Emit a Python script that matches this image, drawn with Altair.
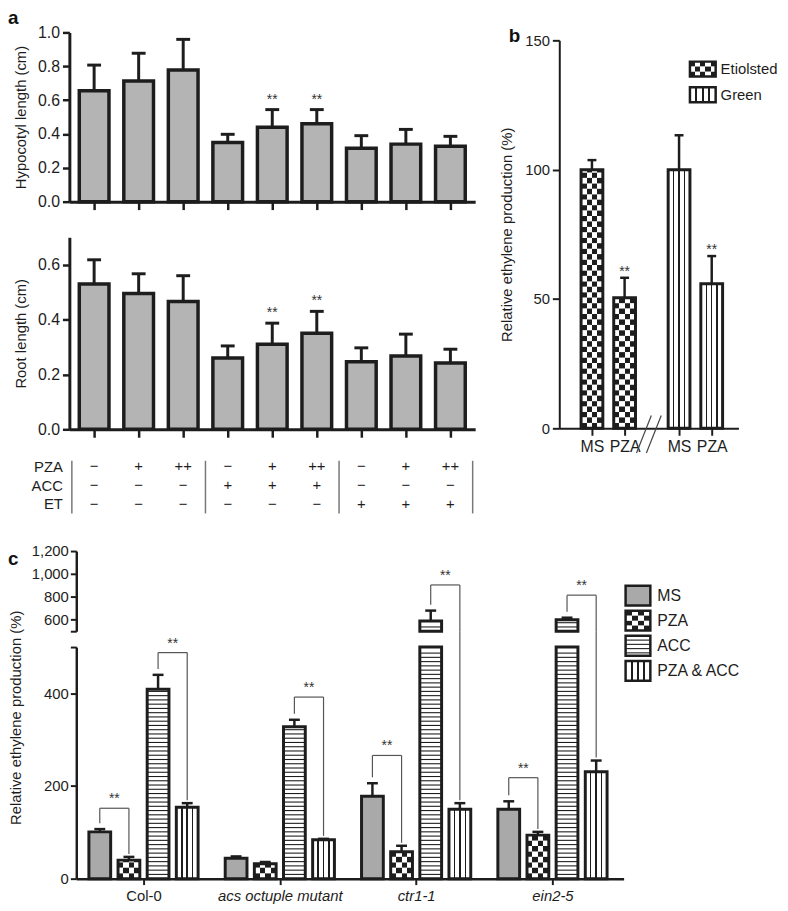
import json
import altair as alt
import pandas as pd

FONT = "Liberation Sans"
INK = "#1d1d1d"
SOFT = "#555555"

# ----------------------------------------------------------------- data
# panel a: treatment table under the bars
a_rows = ["PZA", "ACC", "ET"]
a_pza = ["−", "+", "++", "−", "+", "++", "−", "+", "++"]
a_acc = ["−", "−", "−", "+", "+", "+", "−", "−", "−"]
a_et = ["−", "−", "−", "−", "−", "−", "+", "+", "+"]
# panel a: hypocotyl length (cm), mean and s.d.
hyp_mean = [0.655, 0.713, 0.778, 0.350, 0.440, 0.460, 0.316, 0.340, 0.327]
hyp_sd = [0.152, 0.164, 0.181, 0.048, 0.104, 0.084, 0.074, 0.087, 0.059]
hyp_sig = ["", "", "", "", "**", "**", "", "", ""]
# panel a: root length (cm)
root_mean = [0.530, 0.495, 0.466, 0.260, 0.310, 0.350, 0.246, 0.267, 0.242]
root_sd = [0.088, 0.072, 0.094, 0.044, 0.077, 0.080, 0.051, 0.080, 0.050]
root_sig = ["", "", "", "", "**", "**", "", "", ""]

# panel b: relative ethylene production (%)
b_lights = ["Etiolsted", "Green"]
b_treats = ["MS", "PZA"]
b_light = ["Etiolsted", "Etiolsted", "Green", "Green"]
b_treat = ["MS", "PZA", "MS", "PZA"]
b_mean = [100.0, 50.5, 100.0, 55.9]
b_sd = [3.7, 7.7, 13.3, 10.7]
b_sig = ["", "**", "", "**"]

# panel c: relative ethylene production (%)
c_genotypes = ["Col-0", "acs octuple mutant", "ctr1-1", "ein2-5"]
c_italic = [False, True, True, True]
c_treatments = ["MS", "PZA", "ACC", "PZA & ACC"]
c_mean = [[101, 40, 409, 154], [44, 32, 328, 84], [178, 58, 590, 150], [150, 94, 600, 231]]
c_sd = [[6, 7, 31, 9], [4, 4, 15, 2], [28, 13, 90, 13], [17, 7, 18, 24]]
# significance brackets (genotype, left treatment, right treatment, bracket height)
c_brk_gen = [0, 0, 1, 2, 2, 3, 3]
c_brk_left = [0, 2, 2, 0, 2, 0, 2]
c_brk_right = [1, 3, 3, 1, 3, 1, 3]
c_brk_height = [152, 488, 392, 266, 904, 218, 815]

# ----------------------------------------------------------------- layout
W, H = 676, 855
PAD = {"left": 62, "top": 20, "right": 42, "bottom": 28}
BREAK = 500  # axis break of panel c


class Lin:
    def __init__(self, domain, rng):
        self.domain, self.rng = list(domain), list(rng)

    def u(self, px):
        return px * abs(self.domain[1] - self.domain[0]) / abs(self.rng[1] - self.rng[0])

    def scale(self):
        return alt.Scale(domain=self.domain, range=self.rng, nice=False, zero=False)


class Panel:
    def __init__(self, xs, ys, xaxis=None, yaxis=None):
        self.xs, self.ys, self.xaxis, self.yaxis = xs, ys, xaxis, yaxis

    def X(self, f):
        return alt.X(f, type="quantitative", scale=self.xs.scale(), axis=self.xaxis)

    def Y(self, f):
        return alt.Y(f, type="quantitative", scale=self.ys.scale(), axis=self.yaxis)


A_X = Lin([-0.556, 8.556], [0, 410])
A_YT = Lin([0, 1.0], [171, 0])
A_YB = Lin([0, 0.7], [401, 207])
T_Y = Lin([-0.5, 2.5], [429, 486])
B_X = Lin([-1.0, 4.485], [495, 676])
B_Y = Lin([0, 150], [400, 8])
C_X = Lin([-0.493, 3.522], [7, 560])
C_YU = Lin([BREAK, 1200], [605, 524])
C_YL = Lin([0, BREAK], [855, 621])
BL_X = Lin([0, 1], [627, 653])
BL_Y = Lin([-0.5, 1.5], [24, 76])
CL_X = Lin([0, 1], [562, 587])
CL_Y = Lin([-0.5, 3.5], [556.3, 657.7])


# ----------------------------------------------------------------- patterns
def vstripe_grad(n, frac=0.07):
    stops = [{"offset": 0, "color": "white"}]
    for k in range(1, n + 1):
        c = k / (n + 1)
        stops += [{"offset": c - frac / 2, "color": "white"},
                  {"offset": c - frac / 2, "color": INK},
                  {"offset": c + frac / 2, "color": INK},
                  {"offset": c + frac / 2, "color": "white"}]
    stops.append({"offset": 1, "color": "white"})
    return {"gradient": "linear", "x1": 0, "y1": 0, "x2": 1, "y2": 0, "stops": stops}


def checker_grad(n, phase):
    stops = []
    for j in range(n):
        col = INK if (j + phase) % 2 == 0 else "white"
        stops += [{"offset": j / n, "color": col}, {"offset": (j + 1) / n, "color": col}]
    return {"gradient": "linear", "x1": 0, "y1": 0, "x2": 1, "y2": 0, "stops": stops}


def fill_layers(P, df, kind, cells=4, row_px=5.5, line_px=4.3, lines=3, gray="#b3b3b3"):
    if len(df) == 0:
        return []
    base = alt.Chart(df)
    X, Y = P.X, P.Y
    enc = dict(x=X("x0"), x2=alt.X2("x1"), y=Y("y0"), y2=alt.Y2("y1"))
    out = []
    if kind == "gray":
        out.append(base.mark_rect(fill=gray).encode(**enc))
    elif kind == "vstripes":
        out.append(base.mark_rect(fill=vstripe_grad(lines)).encode(**enc))
    elif kind == "hstripes":
        st = P.ys.u(line_px)
        out.append(base.mark_rect(fill="white").encode(**enc))
        out.append(base.transform_calculate(ys=f"sequence(datum.y0 + {st}, datum.y1 - {0.5 * st}, {st})")
                   .transform_flatten(["ys"])
                   .mark_rule(color=INK, strokeWidth=1.1)
                   .encode(x=X("x0"), x2=alt.X2("x1"), y=Y("ys")))
    elif kind == "checker":
        st = P.ys.u(row_px)
        rows = (base.transform_calculate(r0=f"sequence(datum.y0, datum.y1, {st})")
                .transform_flatten(["r0"])
                .transform_calculate(r1=f"min(datum.r0 + {st}, datum.y1)",
                                     par=f"round((datum.r0 - datum.y0) / {st}) % 2"))
        for p in (0, 1):
            out.append(rows.transform_filter(f"datum.par == {p}")
                       .mark_rect(fill=checker_grad(cells, p))
                       .encode(x=X("x0"), x2=alt.X2("x1"), y=Y("r0"), y2=alt.Y2("r1")))
    return out


def outline(P, df, sw):
    if len(df) == 0:
        return []
    return [alt.Chart(df).mark_rect(fill="white", fillOpacity=0, stroke=INK, strokeWidth=sw)
            .encode(x=P.X("x0"), x2=alt.X2("x1"), y=P.Y("y0"), y2=alt.Y2("y1"))]


def errors(P, df, cap_px, sw):
    if len(df) == 0:
        return []
    hw = P.xs.u(cap_px / 2)
    d = df.assign(c0=df["x"] - hw, c1=df["x"] + hw)
    base = alt.Chart(d)
    return [base.mark_rule(color=INK, strokeWidth=sw).encode(x=P.X("x"), y=P.Y("mean"), y2=alt.Y2("top")),
            base.mark_rule(color=INK, strokeWidth=sw).encode(x=P.X("c0"), x2=alt.X2("c1"), y=P.Y("top"))]


def stars(P, df, field, dy, size=14):
    d = df[df["sig"] != ""]
    return [alt.Chart(d).mark_text(dy=dy, fontSize=size, font=FONT, color="#333333", baseline="alphabetic")
            .encode(x=P.X("x"), y=P.Y(field), text="sig:N")]


# ----------------------------------------------------------------- panel a
def a_frame(mean, sd, sig):
    hw = A_X.u(15)
    d = pd.DataFrame({"x": list(range(len(mean))), "mean": mean, "sd": sd, "sig": sig})
    d["x0"], d["x1"], d["y0"], d["y1"] = d["x"] - hw, d["x"] + hw, 0.0, d["mean"]
    d["top"] = d["mean"] + d["sd"]
    return d


def a_panel(mean, sd, sig, ys, title, yvals):
    y_bottom = ys.rng[0]
    P = Panel(A_X, ys,
              xaxis=alt.Axis(orient="bottom", offset=y_bottom - H, values=list(range(len(mean))), labels=False,
                             tickSize=8, tickWidth=2.5, domainWidth=3, title=None),
              yaxis=alt.Axis(orient="left", offset=0, values=yvals, format=".1f", tickSize=7, tickWidth=2.5,
                             domainWidth=3, title=title, labelPadding=3, titlePadding=9, labelFontSize=16))
    d = a_frame(mean, sd, sig)
    layers = fill_layers(P, d, "gray", gray="#b4b4b4") + errors(P, d, 14, 3) + outline(P, d, 3.5) + stars(P, d, "top", -6)
    return alt.layer(*layers)


a_top = a_panel(hyp_mean, hyp_sd, hyp_sig, A_YT, "Hypocotyl length (cm)", [0, 0.2, 0.4, 0.6, 0.8, 1.0])
a_bot = a_panel(root_mean, root_sd, root_sig, A_YB, "Root length (cm)", [0, 0.2, 0.4, 0.6])

# treatment table
P_t = Panel(A_X, T_Y, xaxis=None,
            yaxis=alt.Axis(orient="left", offset=0, values=[0, 1, 2], labelExpr=f"{json.dumps(a_rows)}[datum.value]",
                           domain=False, ticks=False, labelPadding=7, labelFontSize=15, title=None))
t_cells = pd.DataFrame([{"x": i, "r": r, "t": col[i]}
                        for r, col in enumerate([a_pza, a_acc, a_et]) for i in range(len(a_pza))])
conds = list(zip(a_acc, a_et))
seps = [-0.5] + [i - 0.5 for i in range(1, len(conds)) if conds[i] != conds[i - 1]] + [len(conds) - 0.5]
t_seps = pd.DataFrame({"x": seps, "y0": -0.3, "y1": 2.5})
table = alt.layer(
    alt.Chart(t_cells).mark_text(fontSize=15, font=FONT, color=INK, baseline="middle")
    .encode(x=P_t.X("x"), y=P_t.Y("r"), text="t:N"),
    alt.Chart(t_seps).mark_rule(color="#777777", strokeWidth=1.5)
    .encode(x=P_t.X("x"), y=P_t.Y("y0"), y2=alt.Y2("y1")),
)

# ----------------------------------------------------------------- panel b
B_GAP = 0.667
b_pos = [b_lights.index(l) * (len(b_treats) + B_GAP) + b_treats.index(t) for l, t in zip(b_light, b_treat)]
b_label_expr = "".join(f"abs(datum.value - {p}) < 0.01 ? '{t}' : " for p, t in zip(b_pos, b_treat)) + "''"
P_b = Panel(B_X, B_Y,
            xaxis=alt.Axis(orient="bottom", offset=B_Y.rng[0] - H, values=b_pos, labelExpr=b_label_expr,
                           tickSize=7, tickWidth=2, domainWidth=2, labelFontSize=16, labelPadding=3, title=None),
            yaxis=alt.Axis(orient="left", offset=-B_X.rng[0], values=[0, 50, 100, 150], tickSize=7, tickWidth=2,
                           domainWidth=2, labelPadding=3, labelFontSize=15, title="Relative ethylene production (%)",
                           titlePadding=10))
hw_b = B_X.u(11)
d_b = pd.DataFrame({"x": b_pos, "light": b_light, "mean": b_mean, "sd": b_sd, "sig": b_sig})
d_b["x0"], d_b["x1"], d_b["y0"], d_b["y1"] = d_b["x"] - hw_b, d_b["x"] + hw_b, 0.0, d_b["mean"]
d_b["top"] = d_b["mean"] + d_b["sd"]
b_kind = {"Etiolsted": "checker", "Green": "vstripes"}
b_layers = []
for light in b_lights:
    b_layers += fill_layers(P_b, d_b[d_b["light"] == light], b_kind[light], cells=4, row_px=5.5)
b_layers += errors(P_b, d_b, 9, 2.5) + outline(P_b, d_b, 3) + stars(P_b, d_b, "top", -2, 14)
# axis-break marks between the two groups
mid = (b_pos[1] + b_pos[2]) / 2
brk = pd.DataFrame({"xa": [mid + B_X.u(-15.5), mid + B_X.u(-5.5)],
                    "xb": [mid + B_X.u(-0.5), mid + B_X.u(9.5)],
                    "ya": [-B_Y.u(25)] * 2, "yb": [B_Y.u(13)] * 2})
b_layers.append(alt.Chart(brk).mark_rule(color="#444444", strokeWidth=1.2)
                .encode(x=P_b.X("xa"), x2=alt.X2("xb"), y=P_b.Y("ya"), y2=alt.Y2("yb")))
panel_b = alt.layer(*b_layers)

# panel b legend
P_bl = Panel(BL_X, BL_Y)
d_bl = pd.DataFrame({"r": list(range(len(b_lights))), "label": b_lights})
d_bl["x0"], d_bl["x1"] = 0.0, 1.0
d_bl["y0"], d_bl["y1"] = d_bl["r"] - BL_Y.u(7.5), d_bl["r"] + BL_Y.u(7.5)
bl_layers = []
for light in b_lights:
    bl_layers += fill_layers(P_bl, d_bl[d_bl["label"] == light], b_kind[light], cells=5, row_px=5)
bl_layers += outline(P_bl, d_bl, 2.5)
bl_layers.append(alt.Chart(d_bl.assign(xt=1.0)).mark_text(align="left", baseline="middle", dx=5, fontSize=15,
                                                          font=FONT, color=INK)
                 .encode(x=P_bl.X("xt"), y=P_bl.Y("r"), text="label:N"))
legend_b = alt.layer(*bl_layers)

# ----------------------------------------------------------------- panel c
C_STEP = 0.2138
hw_c = C_X.u(11)
rows = []
for g, gen in enumerate(c_genotypes):
    for k, tr in enumerate(c_treatments):
        m, s = c_mean[g][k], c_sd[g][k]
        rows.append({"g": g, "k": k, "x": g + (k - 1.5) * C_STEP, "mean": m, "top": m + s})
d_c = pd.DataFrame(rows)
d_c["x0"], d_c["x1"] = d_c["x"] - hw_c, d_c["x"] + hw_c
c_kind = ["gray", "checker", "hstripes", "vstripes"]

fmt_expr = f"datum.value == {BREAK} ? '' : format(datum.value, ',')"
P_cu = Panel(C_X, C_YU, xaxis=None,
             yaxis=alt.Axis(orient="left", offset=-C_X.rng[0], values=[BREAK, 600, 800, 1000, 1200],
                            labelExpr=fmt_expr, tickSize=6, tickWidth=2, domainWidth=2.5, labelFontSize=15,
                            title=None))
P_cl = Panel(C_X, C_YL,
             xaxis=alt.Axis(orient="bottom", offset=0, values=list(range(len(c_genotypes))),
                            labelExpr=f"{json.dumps(c_genotypes)}[datum.value]",
                            labelFontStyle={"condition": {"test": f"{json.dumps(c_italic)}[datum.value]",
                                                          "value": "italic"}, "value": "normal"},
                            tickSize=6, tickWidth=2, domainWidth=2.5, labelFontSize=15, labelPadding=4,
                            title=None),
             yaxis=alt.Axis(orient="left", offset=-C_X.rng[0], values=[0, 200, 400, BREAK],
                            labelExpr=fmt_expr, tickSize=6, tickWidth=2, domainWidth=2.5, labelFontSize=15,
                            title="Relative ethylene production (%)", titleY=692, titlePadding=20))

lo = d_c.assign(y0=0.0, y1=d_c["mean"].clip(upper=BREAK))
up = d_c[d_c["mean"] > BREAK].assign(y0=float(BREAK))
up["y1"] = up["mean"]

cl_layers, cu_layers = [], []
for k, kind in enumerate(c_kind):
    cl_layers += fill_layers(P_cl, lo[lo["k"] == k], kind, cells=4, row_px=5.5, line_px=4.3, gray="#a9a9a9")
    cu_layers += fill_layers(P_cu, up[up["k"] == k], kind, cells=4, row_px=5.5, line_px=4.3, gray="#a9a9a9")
cl_layers += errors(P_cl, d_c[d_c["mean"] <= BREAK], 11, 2.5) + outline(P_cl, lo, 3)
cu_layers += errors(P_cu, d_c[d_c["mean"] > BREAK], 11, 2.5) + outline(P_cu, up, 3)


# significance brackets
def xpos(g, k):
    return g + (k - 1.5) * C_STEP


def topv(g, k):
    return c_mean[g][k] + c_sd[g][k]


def gap_above(v, px):
    return v + (C_YL.u(px) if v < BREAK else C_YU.u(px))


legs, hbars = [], []
for g, kl, kr, h in zip(c_brk_gen, c_brk_left, c_brk_right, c_brk_height):
    for k, gp in ((kl, 6), (kr, 3)):
        legs.append({"x": xpos(g, k), "ys": gap_above(topv(g, k), gp), "ye": h})
    hbars.append({"x0": xpos(g, kl), "x1": xpos(g, kr), "x": (xpos(g, kl) + xpos(g, kr)) / 2, "h": h, "sig": "**"})
legs, hbars = pd.DataFrame(legs), pd.DataFrame(hbars)
gap_fill = BREAK + C_YL.u(C_YL.rng[1] - C_YU.rng[0])
legs_lo = legs[legs["ys"] < BREAK].copy()
legs_lo["ye"] = legs_lo["ye"].where(legs_lo["ye"] <= BREAK, gap_fill)
legs_up = legs[legs["ye"] > BREAK].copy()
legs_up["ys"] = legs_up["ys"].clip(lower=BREAK)
for P, lg, hb, lay in ((P_cl, legs_lo, hbars[hbars["h"] <= BREAK], cl_layers),
                       (P_cu, legs_up, hbars[hbars["h"] > BREAK], cu_layers)):
    lay.append(alt.Chart(lg).mark_rule(color=SOFT, strokeWidth=1.2)
               .encode(x=P.X("x"), y=P.Y("ys"), y2=alt.Y2("ye")))
    lay.append(alt.Chart(hb).mark_rule(color=SOFT, strokeWidth=1.2)
               .encode(x=P.X("x0"), x2=alt.X2("x1"), y=P.Y("h")))
    lay += stars(P, hb, "h", -5, 14)
c_low = alt.layer(*cl_layers)
c_up = alt.layer(*cu_layers)

# panel c legend
P_clg = Panel(CL_X, CL_Y)
d_clg = pd.DataFrame({"r": list(range(len(c_treatments))), "label": c_treatments})
d_clg["x0"], d_clg["x1"] = 0.0, 1.0
d_clg["y0"], d_clg["y1"] = d_clg["r"] - CL_Y.u(10), d_clg["r"] + CL_Y.u(10)
clg_layers = []
for k, kind in enumerate(c_kind):
    clg_layers += fill_layers(P_clg, d_clg[d_clg["r"] == k], kind, cells=4, row_px=5, line_px=4.3, gray="#a9a9a9")
clg_layers += outline(P_clg, d_clg, 2.5)
clg_layers.append(alt.Chart(d_clg.assign(xt=1.0)).mark_text(align="left", baseline="middle", dx=7, fontSize=16,
                                                            font=FONT, color=INK)
                  .encode(x=P_clg.X("xt"), y=P_clg.Y("r"), text="label:N"))
legend_c = alt.layer(*clg_layers)

# ----------------------------------------------------------------- panel letters
letters = pd.DataFrame({"t": ["a", "b", "c"]})
letter_layers = alt.layer(*[
    alt.Chart(letters[letters["t"] == t]).mark_text(fontSize=19, fontWeight="bold", font=FONT, color="#111111",
                                                    align="left", baseline="alphabetic")
    .encode(x=alt.value(px), y=alt.value(py), text="t:N")
    for t, px, py in (("a", -62, -9), ("b", 444, 10), ("c", -62, 538))
])

chart = (
    alt.layer(a_top, a_bot, table, panel_b, legend_b, c_up, c_low, legend_c, letter_layers)
    .resolve_scale(x="independent", y="independent")
    .properties(width=W, height=H, padding=PAD, autosize=alt.AutoSizeParams(type="none"))
    .configure_view(strokeWidth=0)
    .configure_axis(grid=False, labelFont=FONT, titleFont=FONT, labelFontSize=15, titleFontSize=15,
                    titleFontWeight="normal", labelColor=INK, titleColor=INK, domainColor=INK, tickColor=INK)
)

chart.save("out.html", embed_options={"renderer": "svg", "actions": False})
